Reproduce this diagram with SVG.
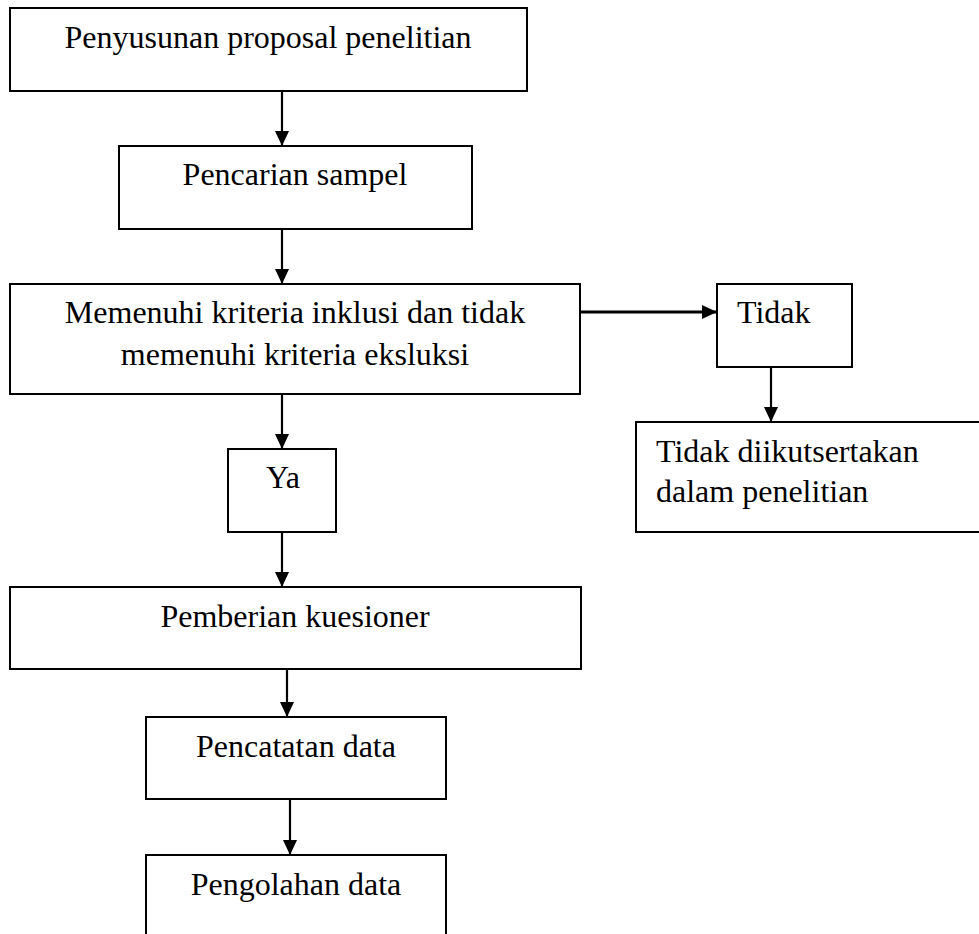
<svg xmlns="http://www.w3.org/2000/svg" width="979" height="934" viewBox="0 0 979 934">
<style>
.box{fill:#fff;stroke:#000;stroke-width:2}
.t{font-family:"Liberation Serif","Times New Roman",serif;font-size:32px;fill:#000}
.c{text-anchor:middle}
.edge{stroke:#000;stroke-width:2.2;fill:none;marker-end:url(#ah)}
.thick{stroke-width:3.2}
</style>
<defs>
<marker id="ah" markerUnits="userSpaceOnUse" markerWidth="16" markerHeight="14" refX="15" refY="7" orient="auto">
<path d="M0,0 L15,7 L0,14 z" fill="#000"/>
</marker>
</defs>
<rect width="979" height="934" fill="#fff"/>
<g id="connectors">
<line class="edge" x1="282" y1="91" x2="282" y2="146"/>
<line class="edge" x1="282" y1="229" x2="282" y2="284"/>
<line class="edge thick" x1="580" y1="312" x2="717" y2="312"/>
<line class="edge" x1="771" y1="367" x2="771" y2="422"/>
<line class="edge" x1="282" y1="394" x2="282" y2="449"/>
<line class="edge" x1="282" y1="532" x2="282" y2="587"/>
<line class="edge" x1="287" y1="669" x2="287" y2="717"/>
<line class="edge" x1="290" y1="799" x2="290" y2="855"/>
</g>
<g id="n1">
<rect class="box" x="10" y="8" width="517" height="83"/>
<text class="t c" x="268" y="48">Penyusunan proposal penelitian</text>
</g>
<g id="n2">
<rect class="box" x="119" y="146" width="353" height="83"/>
<text class="t c" x="295" y="185">Pencarian sampel</text>
</g>
<g id="n3">
<rect class="box" x="10" y="284" width="570" height="110"/>
<text class="t c" x="295" y="323">Memenuhi kriteria inklusi dan tidak</text>
<text class="t c" x="295" y="365">memenuhi kriteria eksluksi</text>
</g>
<g id="n4">
<rect class="box" x="717" y="284" width="135" height="83"/>
<text class="t" x="737" y="323">Tidak</text>
</g>
<g id="n5">
<rect class="box" x="636" y="422" width="360" height="110"/>
<text class="t" x="656" y="462">Tidak diikutsertakan</text>
<text class="t" x="656" y="502">dalam penelitian</text>
</g>
<g id="n6">
<rect class="box" x="228" y="449" width="108" height="83"/>
<text class="t c" x="283" y="488">Ya</text>
</g>
<g id="n7">
<rect class="box" x="10" y="587" width="571" height="82"/>
<text class="t c" x="295" y="627">Pemberian kuesioner</text>
</g>
<g id="n8">
<rect class="box" x="146" y="717" width="300" height="82"/>
<text class="t c" x="296" y="757">Pencatatan data</text>
</g>
<g id="n9">
<rect class="box" x="146" y="855" width="300" height="100"/>
<text class="t c" x="296" y="895">Pengolahan data</text>
</g>
</svg>
